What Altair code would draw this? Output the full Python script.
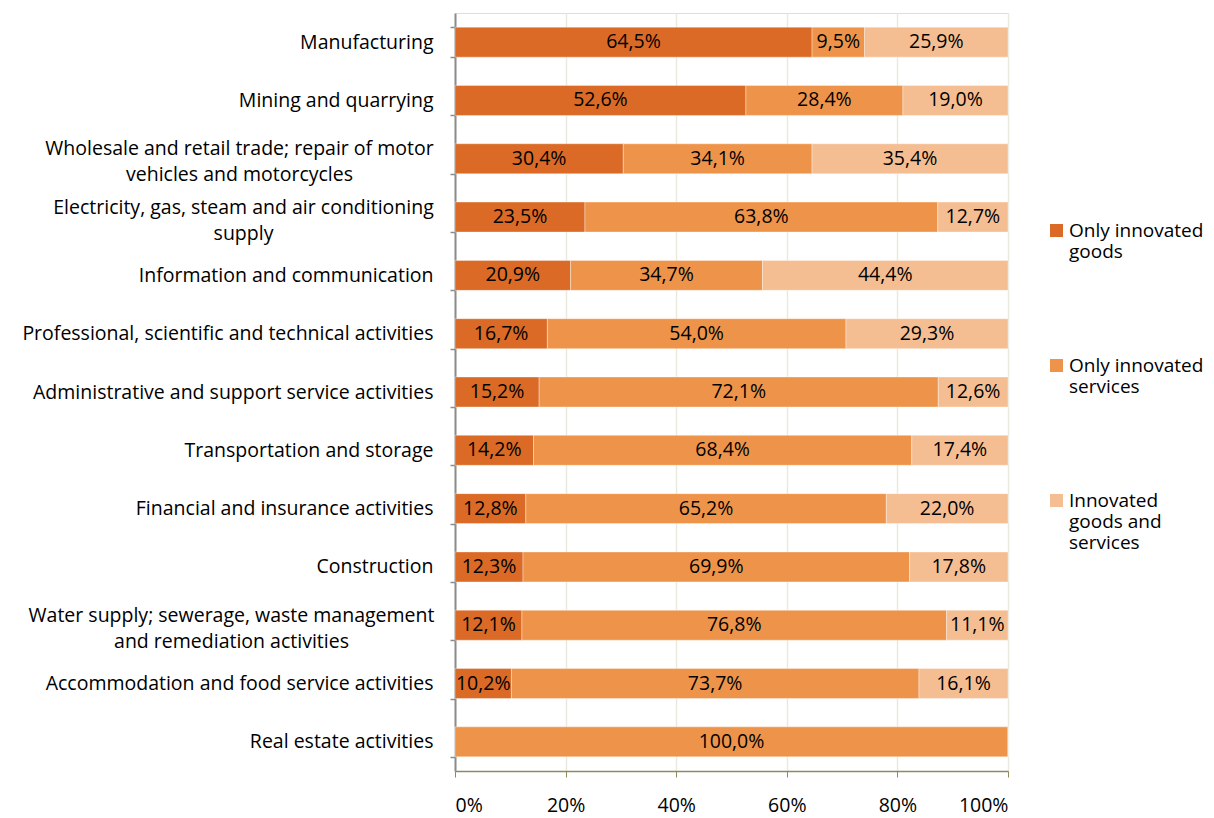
import altair as alt
import pandas as pd

categories = [
    "Manufacturing",
    "Mining and quarrying",
    "Wholesale and retail trade; repair of motor|vehicles and motorcycles",
    "Electricity, gas, steam and air conditioning|supply",
    "Information and communication",
    "Professional, scientific and technical activities",
    "Administrative and support service activities",
    "Transportation and storage",
    "Financial and insurance activities",
    "Construction",
    "Water supply; sewerage, waste management|and remediation activities",
    "Accommodation and food service activities",
    "Real estate activities",
]
goods = [64.5, 52.6, 30.4, 23.5, 20.9, 16.7, 15.2, 14.2, 12.8, 12.3, 12.1, 10.2, 0.0]
services = [9.5, 28.4, 34.1, 63.8, 34.7, 54.0, 72.1, 68.4, 65.2, 69.9, 76.8, 73.7, 100.0]
both = [25.9, 19.0, 35.4, 12.7, 44.4, 29.3, 12.6, 17.4, 22.0, 17.8, 11.1, 16.1, 0.0]
series = ["Only innovated goods", "Only innovated services", "Innovated goods and services"]
colors = ["#DA6A26", "#EE944A", "#F5BE92"]
x_ticks = [0, 0.2, 0.4, 0.6, 0.8, 1.0]

rows = []
for i, c in enumerate(categories):
    for j, (s, vals) in enumerate(zip(series, [goods, services, both])):
        rows.append({"cat": c, "series": s, "order": j, "value": vals[i]})
df = pd.DataFrame(rows)

FONT = "Open Sans"
FS = 19.5

# wrapped (two-line) labels are centred under their first line, like Excel does
wrapped_pad = {
    categories[2]: 211,
    categories[3]: 207,
    categories[10]: 219,
}
pad_conditions = [
    {"test": f"datum.label == '{k}'", "value": v} for k, v in wrapped_pad.items()
]
is_wrapped = "indexof(datum.label, '|') >= 0"

base = alt.Chart(df).transform_stack(
    stack="value", groupby=["cat"], as_=["v0", "v1"], offset="normalize",
    sort=[alt.SortField("order", order="ascending")],
)

y = alt.Y(
    "cat:N", sort=categories, title=None,
    scale=alt.Scale(paddingInner=0.486, paddingOuter=0.243),
    axis=alt.Axis(
        labelExpr="split(datum.label, '|')",
        labelFont=FONT, labelFontSize=FS, labelColor="#000000",
        labelLimit=600, labelLineHeight=26,
        labelPadding={"condition": pad_conditions, "value": 17},
        labelAlign={"condition": {"test": is_wrapped, "value": "center"}, "value": "right"},
        labelOffset={"condition": {"test": is_wrapped, "value": -10}, "value": 0},
        tickBand="extent", tickSize=5, tickColor="#8C8C8C", tickWidth=1.5,
        domainColor="#8C8C8C", domainWidth=2, grid=False,
    ),
)

legend_labels = (
    "datum.label == 'Only innovated goods' ? ['Only innovated', 'goods'] : "
    "datum.label == 'Only innovated services' ? ['Only innovated', 'services'] : "
    "['Innovated', 'goods and', 'services']"
)

bars = base.mark_bar(stroke="#FFFFFF", strokeWidth=0.6, strokeOpacity=0.6).encode(
    x=alt.X(
        "v0:Q", title=None, scale=alt.Scale(domain=[0, 1], nice=False),
        axis=alt.Axis(
            values=x_ticks, format=".0%", labelFont=FONT, labelFontSize=FS,
            labelColor="#000000", labelPadding=19, tickSize=6,
            tickColor="#8F8A5C", domainColor="#8F8A5C", domainWidth=1.5,
            grid=True, gridColor="#E9E9DD", gridWidth=1.5,
        ),
    ),
    x2="v1:Q",
    y=y,
    color=alt.Color(
        "series:N", scale=alt.Scale(domain=series, range=colors), title=None,
        legend=alt.Legend(
            orient="none", legendX=592, legendY=208, symbolType="square",
            symbolSize=169, symbolStrokeWidth=0, labelFont=FONT, labelFontSize=19,
            labelColor="#000000", labelExpr=legend_labels, labelOffset=3,
            rowPadding=94, labelLimit=300,
        ),
    ),
    order=alt.Order("order:Q"),
)

text = base.transform_filter("datum.value > 0").transform_calculate(
    mid="(datum.v0 + datum.v1) / 2",
    lbl="replace(format(datum.value, '.1f'), '.', ',') + '%'",
).mark_text(font=FONT, fontSize=FS, color="#000000").encode(
    x="mid:Q", y=y, text="lbl:N",
)

chart = alt.layer(bars, text).properties(
    width=553, height=758,
    autosize=alt.AutoSizeParams(type="none"),
    padding={"left": 447, "top": 5, "right": 198, "bottom": 47},
).configure_view(stroke=None).configure(background="#FFFFFF")

chart.save("out.html", embed_options={"renderer": "svg", "actions": False})
